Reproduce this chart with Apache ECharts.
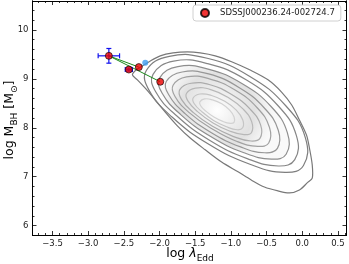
<!DOCTYPE html>
<html><head><meta charset="utf-8">
<script src="https://cdn.jsdelivr.net/npm/echarts@6/dist/echarts.min.js"></script>
<style>html,body{margin:0;padding:0;background:#fff}#c{width:349px;height:264px}</style>
</head><body><div id="c"></div>
<script>
// ---- axes ----
const xMin = -3.78, xMax = 0.62, yMin = 5.81, yMax = 10.59;
const xMajor = [-3.5, -3.0, -2.5, -2.0, -1.5, -1.0, -0.5, 0.0, 0.5];
const xMinor = [-3.7,-3.6,-3.4,-3.3,-3.2,-3.1,-2.9,-2.8,-2.7,-2.6,-2.4,-2.3,-2.2,-2.1,-1.9,-1.8,-1.7,-1.6,-1.4,-1.3,-1.2,-1.1,-0.9,-0.8,-0.7,-0.6,-0.4,-0.3,-0.2,-0.1,0.1,0.2,0.3,0.4,0.6];
const yMajor = [6, 7, 8, 9, 10];
const yMinor = [6.2,6.4,6.6,6.8,7.2,7.4,7.6,7.8,8.2,8.4,8.6,8.8,9.2,9.4,9.6,9.8,10.2,10.4];

// ---- source points ----
const seriesName = 'SDSSJ000236.24-002724.7';
const ptX = [-2.71, -2.43, -2.29, -1.99];
const ptY = [9.47, 9.19, 9.24, 8.94];
const errX = [0.15, 0.05, 0, 0];
const errY = [0.15, 0.03, 0, 0];
const links = [[0, 2], [0, 3]];
const blueX = [-2.20];
const blueY = [9.33];

// ---- density contour levels (outer to inner) ----
const contour1 = [[-2.145,9.35],[-1.99,9.47],[-1.81,9.53],[-1.61,9.55],[-1.43,9.53],[-1.22,9.47],[-0.99,9.35],[-0.73,9.18],[-0.48,8.98],[-0.29,8.73],[-0.15,8.47],[-0.04,8.16],[0.06,7.85],[0.10,7.59],[0.14,7.24],[0.14,6.97],[0.08,6.89],[-0.04,6.73],[-0.18,6.67],[-0.34,6.71],[-0.53,6.79],[-0.71,6.93],[-0.90,7.10],[-1.13,7.30],[-1.36,7.55],[-1.57,7.79],[-1.75,8.04],[-1.92,8.32],[-2.06,8.57],[-2.20,8.81],[-2.31,8.98],[-2.38,9.08],[-2.33,9.18],[-2.24,9.26]];
const contour2 = [[0.017,7.23],[-0.240,7.09],[-0.724,7.25],[-1.304,7.66],[-1.825,8.22],[-2.148,8.77],[-2.185,9.17],[-1.863,9.46],[-1.332,9.42],[-0.734,9.05],[-0.231,8.45],[0.045,7.79]];
const contour3 = [[-0.105,7.35],[-0.335,7.22],[-0.771,7.37],[-1.294,7.74],[-1.764,8.25],[-2.056,8.74],[-2.091,9.09],[-1.803,9.36],[-1.326,9.31],[-0.787,8.98],[-0.332,8.44],[-0.082,7.84]];
const contour4 = [[-0.226,7.46],[-0.431,7.36],[-0.817,7.49],[-1.283,7.82],[-1.703,8.27],[-1.965,8.71],[-1.998,9.02],[-1.743,9.25],[-1.319,9.20],[-0.840,8.90],[-0.434,8.43],[-0.209,7.90]];
const contour5 = [[-0.348,7.58],[-0.526,7.49],[-0.864,7.61],[-1.273,7.90],[-1.642,8.29],[-1.873,8.68],[-1.904,8.95],[-1.683,9.14],[-1.313,9.10],[-0.893,8.83],[-0.535,8.41],[-0.336,7.95]];
const contour6 = [[-0.470,7.69],[-0.622,7.62],[-0.913,7.72],[-1.265,7.98],[-1.584,8.31],[-1.783,8.64],[-1.810,8.87],[-1.621,9.04],[-1.303,9.00],[-0.941,8.77],[-0.632,8.41],[-0.460,8.01]];
const contour7 = [[-0.591,7.79],[-0.719,7.73],[-0.963,7.82],[-1.258,8.03],[-1.525,8.31],[-1.693,8.58],[-1.716,8.78],[-1.558,8.91],[-1.292,8.88],[-0.989,8.68],[-0.730,8.38],[-0.584,8.06]];
const contour8 = [[-0.713,7.90],[-0.815,7.86],[-1.012,7.93],[-1.250,8.10],[-1.467,8.33],[-1.603,8.55],[-1.623,8.70],[-1.496,8.81],[-1.282,8.78],[-1.037,8.62],[-0.827,8.38],[-0.708,8.12]];
const contour9 = [[-0.835,8.00],[-0.912,7.96],[-1.061,8.02],[-1.243,8.15],[-1.408,8.33],[-1.513,8.49],[-1.529,8.61],[-1.434,8.69],[-1.271,8.66],[-1.085,8.54],[-0.924,8.36],[-0.833,8.16]];
const contour10 = [[-0.956,8.11],[-1.010,8.09],[-1.113,8.13],[-1.238,8.22],[-1.352,8.34],[-1.424,8.45],[-1.435,8.53],[-1.369,8.59],[-1.257,8.57],[-1.128,8.49],[-1.017,8.36],[-0.955,8.22]];
const contours = [contour1, contour2, contour3, contour4, contour5, contour6, contour7, contour8, contour9, contour10];
const contourColors = ['#787878', '#7e7e7e', '#868686', '#8e8e8e', '#979797', '#a1a1a1', '#acacac', '#b8b8b8', '#c5c5c5', '#d2d2d2'];

const fmt = v => (v < 0 ? '\u2212' : '') + Math.abs(v).toFixed(1);
const axisLineStyle = { color: '#000', width: 1 };
function xAx(pos, vals, len, labels) {
  return { type: 'value', min: xMin, max: xMax, position: pos,
    axisLine: { show: true, onZero: false, lineStyle: axisLineStyle },
    axisTick: { show: true, inside: true, length: len, customValues: vals, lineStyle: { color: '#000', width: 0.8 } },
    axisLabel: labels ? { show: true, customValues: vals, formatter: fmt, fontSize: 8.5, color: '#222', margin: 4, fontFamily: 'DejaVu Sans' } : { show: false },
    splitLine: { show: false } };
}
function yAx(pos, vals, len, labels) {
  return { type: 'value', min: yMin, max: yMax, position: pos,
    axisLine: { show: true, onZero: false, lineStyle: axisLineStyle },
    axisTick: { show: true, inside: true, length: len, customValues: vals, lineStyle: { color: '#000', width: 0.8 } },
    axisLabel: labels ? { show: true, customValues: vals, formatter: v => String(v), fontSize: 8.5, color: '#222', margin: 4, fontFamily: 'DejaVu Sans' } : { show: false },
    splitLine: { show: false } };
}

const points = ptX.map((x, i) => [x, ptY[i]]);
const linkData = [];
links.forEach(([a, b]) => { linkData.push(points[a], points[b], null); });
const errData = ptX.map((x, i) => [x, ptY[i], errX[i], errY[i]]).filter(d => d[2] > 0 || d[3] > 0);

const chart = echarts.init(document.getElementById('c'), null, { renderer: 'canvas' });
chart.setOption({
  animation: false,
  backgroundColor: '#fff',
  grid: { left: 32.5, right: 2.5, top: 1, bottom: 29, containLabel: false },
  xAxis: [xAx('bottom', xMajor, 4, true), xAx('bottom', xMinor, 2, false), xAx('top', xMajor, 4, false), xAx('top', xMinor, 2, false)],
  yAxis: [yAx('left', yMajor, 4, true), yAx('left', yMinor, 2, false), yAx('right', yMajor, 4, false), yAx('right', yMinor, 2, false)],
  legend: {
    show: true, data: [seriesName], left: 193, top: 5, orient: 'horizontal',
    backgroundColor: '#fff', borderColor: '#d0d0d0', borderWidth: 1, borderRadius: 3,
    padding: [3, 6, 3, 7], itemWidth: 8, itemHeight: 8, itemGap: 5,
    textStyle: { fontSize: 8.5, color: '#222', fontFamily: 'DejaVu Sans', padding: [0, 0, 0, 6] }
  },
  graphic: [
    { type: 'text', x: 190, y: 252, style: { text: '{n|log }{i|λ}{s|Edd}', align: 'center', verticalAlign: 'middle',
      rich: { n: { fontSize: 12.5, fontFamily: 'DejaVu Sans', fill: '#000', lineHeight: 16, verticalAlign: 'bottom' },
              i: { fontSize: 12.5, fontFamily: 'DejaVu Sans', fontStyle: 'italic', fill: '#000', lineHeight: 16, verticalAlign: 'bottom' },
              s: { fontSize: 9, fontFamily: 'DejaVu Sans', fill: '#000', lineHeight: 12, verticalAlign: 'bottom', padding: [0, 0, -3, 0] } } } },
    { type: 'text', x: 8, y: 120, rotation: Math.PI / 2, style: { text: '{n|log M}{s|BH}{n| [M}{s|⊙}{n|]}', align: 'center', verticalAlign: 'middle',
      rich: { n: { fontSize: 12.5, fontFamily: 'DejaVu Sans', fill: '#000', lineHeight: 16, verticalAlign: 'bottom' },
              s: { fontSize: 9, fontFamily: 'DejaVu Sans', fill: '#000', lineHeight: 12, verticalAlign: 'bottom', padding: [0, 0, -3, 0] } } } }
  ],
  series: [
    { type: 'custom', name: 'contours', xAxisIndex: 0, yAxisIndex: 0, silent: true, z: 1,
      data: contours.map(c => c[0]),
      renderItem: (params, api) => {
        const i = params.dataIndex;
        const pts = contours[i].map(p => api.coord(p));
        const style = { stroke: contourColors[i], lineWidth: 1.2, fill: 'none' };
        if (i === 3) {
          style.fill = { type: 'radial', x: 0.45, y: 0.48, r: 0.6, colorStops: [
            { offset: 0, color: 'rgba(255,255,255,1)' }, { offset: 0.3, color: 'rgba(240,240,240,1)' },
            { offset: 0.65, color: 'rgba(222,222,222,0.9)' }, { offset: 1, color: 'rgba(235,235,235,0.3)' }] };
        }
        return { type: 'polygon', shape: { points: pts, smooth: i === 0 ? 0.3 : 0.45 }, style };
      } },
    { type: 'line', name: 'links', data: linkData, connectNulls: false, showSymbol: false, symbol: 'none', z: 3,
      lineStyle: { color: '#1a8a1a', width: 1 }, silent: true },
    { type: 'scatter', name: 'blue', data: blueX.map((x, i) => [x, blueY[i]]), symbol: 'circle', symbolSize: 6, z: 3,
      itemStyle: { color: '#3c9cf0' }, silent: true },
    { type: 'custom', name: 'errors', z: 4, silent: true, data: errData,
      renderItem: (params, api) => {
        const x = api.value(0), y = api.value(1), ex = api.value(2), ey = api.value(3);
        const l = api.coord([x - ex, y]), r = api.coord([x + ex, y]);
        const t = api.coord([x, y + ey]), b = api.coord([x, y - ey]);
        const cap = 2.5, st = { stroke: '#1010ee', lineWidth: 1.2 };
        return { type: 'group', children: [
          { type: 'line', shape: { x1: l[0], y1: l[1], x2: r[0], y2: r[1] }, style: st },
          { type: 'line', shape: { x1: t[0], y1: t[1], x2: b[0], y2: b[1] }, style: st },
          { type: 'line', shape: { x1: l[0], y1: l[1] - cap, x2: l[0], y2: l[1] + cap }, style: st },
          { type: 'line', shape: { x1: r[0], y1: r[1] - cap, x2: r[0], y2: r[1] + cap }, style: st },
          { type: 'line', shape: { x1: t[0] - cap, y1: t[1], x2: t[0] + cap, y2: t[1] }, style: st },
          { type: 'line', shape: { x1: b[0] - cap, y1: b[1], x2: b[0] + cap, y2: b[1] }, style: st } ] };
      } },
    { type: 'scatter', name: seriesName, data: points, symbol: 'circle', symbolSize: 7, z: 5,
      itemStyle: { color: '#ee0000', borderColor: '#000', borderWidth: 0.8 } }
  ]
});
</script></body></html>
